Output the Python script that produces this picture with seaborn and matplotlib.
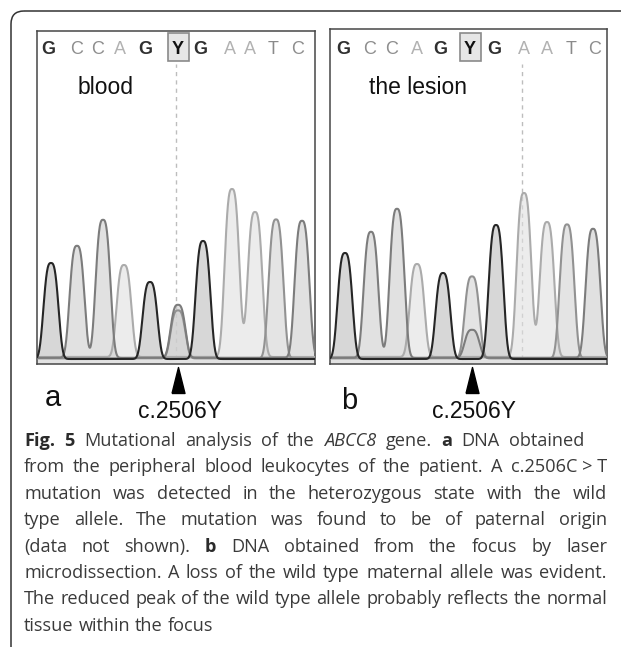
import numpy as np
import pandas as pd
import matplotlib
matplotlib.use("Agg")
import matplotlib.pyplot as plt
import matplotlib.transforms as mtransforms
from matplotlib.patches import FancyBboxPatch, Rectangle
from matplotlib.path import Path
import seaborn as sns

# base calls shown above each trace
calls = list("GCCAGYGAATC")
call_x_a = [11, 40, 61, 83, 108, 141, 163, 193, 213, 236, 261]
call_x_b = [13, 40, 62, 87, 110, 140, 164, 194, 217, 241, 265]

# peaks (scan position, channel, height); the Y position carries a C and a T peak
peak_base = ["G", "C", "C", "A", "G", "C", "T", "G", "A", "A", "T", "C"]
peak_x_a = [14, 40, 66, 87, 113, 141, 141, 166, 195, 218, 239, 265]
peak_h_a = [96, 112, 138, 92, 77, 53, 48, 118, 168, 145, 139, 137]
peak_x_b = [15, 41, 67, 87, 113, 142, 142, 166, 194, 217, 237, 263]
peak_h_b = [106, 126, 149, 93, 86, 28, 82, 134, 164, 135, 134, 129]
peak_hw = 7.8    # half width at half height
peak_pow = 3.0   # shape exponent

mut_x_a, mut_x_b = 141, 142          # arrow positions
cursor_x_a, cursor_x_b = 139, 192    # dashed cursor line
sample_a, sample_b = "blood", "the lesion"
mut_label = "c.2506Y"

line_col = {"G": "#262626", "C": "#7c7c7c", "T": "#929292", "A": "#ababab"}
fill_col = {"G": "#bdbdbd", "C": "#cdcdcd", "T": "#d3d3d3", "A": "#e0e0e0"}
base_off = {"G": 0.0, "C": 1.2, "T": 0.6, "A": 2.0}
letter_col = {"G": "#303030", "C": "#8e8e8e", "A": "#b2b2b2", "T": "#8a8a8a", "Y": "#111111"}

caption = [
    "*Fig.* *5* Mutational analysis of the _ABCC8_ gene. *a* DNA obtained",
    "from the peripheral blood leukocytes of the patient. A c.2506C\u00a0>\u00a0T",
    "mutation was detected in the heterozygous state with the wild",
    "type allele. The mutation was found to be of paternal origin",
    "(data not shown). *b* DNA obtained from the focus by laser",
    "microdissection. A loss of the wild type maternal allele was evident.",
    "The reduced peak of the wild type allele probably reflects the normal",
    "tissue within the focus",
]
# right edge each line is stretched to (None = natural spacing)
line_end = [584, 607, 607, 607, 607, 607, 607, None]

sns.set_theme(style="white")
plt.rcParams["font.family"] = ["Liberation Sans", "DejaVu Sans"]

W, H = 621, 647
fig = plt.figure(figsize=(W / 100, H / 100), dpi=100)
fig.patch.set_facecolor("white")

ov = fig.add_axes([0, 0, 1, 1])
ov.set_xlim(0, W)
ov.set_ylim(H, 0)
ov.axis("off")
ov.add_patch(FancyBboxPatch((11, 11), 660, 680, boxstyle="round,pad=0,rounding_size=13",
                            fill=False, ec="#333333", lw=1.1))


def panel_axes(left, top, right, bottom):
    return fig.add_axes([left / W, 1 - bottom / H, (right - left) / W, (bottom - top) / H])


tri = Path([(-0.25, -0.5), (0.25, -0.5), (0.0, 0.5), (-0.25, -0.5)])


def draw_panel(ax, width, top_px, px, ph, call_x, mut_x, cursor_x, sample, sample_x):
    height = 364 - top_px
    ax.set_xlim(0, width)
    ax.set_ylim(-5, height - 5)
    ax.set_xticks([])
    ax.set_yticks([])
    for s in ax.spines.values():
        s.set_color("#474747")
        s.set_linewidth(1.1)
        s.set_visible(True)
    ax.set_facecolor("white")

    scan = np.linspace(0, width, 1400)
    frames = []
    for b in ["A", "T", "C", "G"]:
        sig = np.full_like(scan, base_off[b])
        for x0, h, pb in zip(px, ph, peak_base):
            if pb == b:
                sig = sig + h * np.exp(-np.log(2) * (np.abs(scan - x0) / peak_hw) ** peak_pow)
        frames.append(pd.DataFrame({"scan": scan, "signal": sig, "base": b}))
        ax.fill_between(scan, base_off[b], sig, color=fill_col[b], alpha=0.6, lw=0, zorder=1)
    df = pd.concat(frames)
    ax.axhspan(-5, -0.8, color="#e2e2e2", zorder=0.5)
    sns.lineplot(data=df, x="scan", y="signal", hue="base", palette=line_col,
                 hue_order=["A", "T", "C", "G"], estimator=None, sort=False,
                 legend=False, linewidth=1.5, ax=ax, zorder=3)
    ax.set_xlabel("")
    ax.set_ylabel("")

    # base calls
    for x, c in zip(call_x, calls):
        bold = c in ("G", "Y")
        ax.text(x, 310, c, ha="center", va="center", fontsize=13,
                color=letter_col[c], fontweight="bold" if bold else "normal")
    yx = call_x[calls.index("Y")]
    ax.add_patch(Rectangle((yx - 10.5, 298), 21, 28, fc="#e6e6e6", ec="#8a8a8a", lw=1.2, zorder=0.8))
    ax.vlines(cursor_x, 0, 295, colors="#bdbdbd", linestyles=(0, (3, 3)), lw=1.0, zorder=0.9)
    ax.text(sample_x, 271, sample, ha="center", va="center", fontsize=16.5, color="#111111")

    trans = mtransforms.blended_transform_factory(ax.transData, ax.transAxes)
    ax.plot([mut_x], [-16 / height], transform=trans, marker=tri, ms=18.7,
            color="black", clip_on=False, ls="none")
    ax.text(mut_x + 2, -48 / height, mut_label, transform=trans, ha="center",
            va="center", fontsize=16.5, color="#111111", clip_on=False)


ax_a = panel_axes(37, 31, 315, 364)
draw_panel(ax_a, 278, 31, peak_x_a, peak_h_a, call_x_a, mut_x_a, cursor_x_a, sample_a, 69)
ax_b = panel_axes(330, 29, 607, 364)
draw_panel(ax_b, 277, 29, peak_x_b, peak_h_b, call_x_b, mut_x_b, cursor_x_b, sample_b, 88)

ov.text(53, 406, "a", fontsize=21, color="#111111", ha="center", va="baseline")
ov.text(349, 409, "b", fontsize=21, color="#111111", ha="center", va="baseline")

# caption, set word by word so the lines can be justified
cap_font = ["Open Sans", "DejaVu Sans"]
cap_left = 24
renderer = fig.canvas.get_renderer()


def style_of(word):
    if word.startswith("*") and word.endswith("*"):
        return word[1:-1], {"fontweight": "bold", "color": "#2b2b2b"}
    if word.startswith("_") and word.endswith("_"):
        return word[1:-1], {"fontstyle": "italic"}
    return word, {}


def text_w(txt, kw, size):
    t = ov.text(0, 0, txt, fontsize=size, family=cap_font, **kw)
    w = t.get_window_extent(renderer).width
    t.remove()
    return w


# size the caption so the widest unstretched line just fits the frame
widest = max(text_w(l.replace("*", "").replace("_", ""), {}, 10) for l in caption)
cap_size = 10 * 580 / widest

space_w = text_w("a a", {}, cap_size) - text_w("aa", {}, cap_size)
for i, line in enumerate(caption):
    words = [style_of(w) for w in line.split(" ")]
    widths = [text_w(t, kw, cap_size) for t, kw in words]
    if line_end[i] is not None and len(words) > 1:
        gap = max(space_w * 0.8, (line_end[i] - cap_left - sum(widths)) / (len(words) - 1))
    else:
        gap = space_w
    x = cap_left
    y = 446 + 26.4 * i
    for (t, kw), w in zip(words, widths):
        kw = dict(kw)
        kw.setdefault("color", "#3a3a3a")
        ov.text(x, y, t, fontsize=cap_size, family=cap_font, va="baseline", ha="left", **kw)
        x += w + gap

fig.savefig("out.png", dpi=100, facecolor="white")
